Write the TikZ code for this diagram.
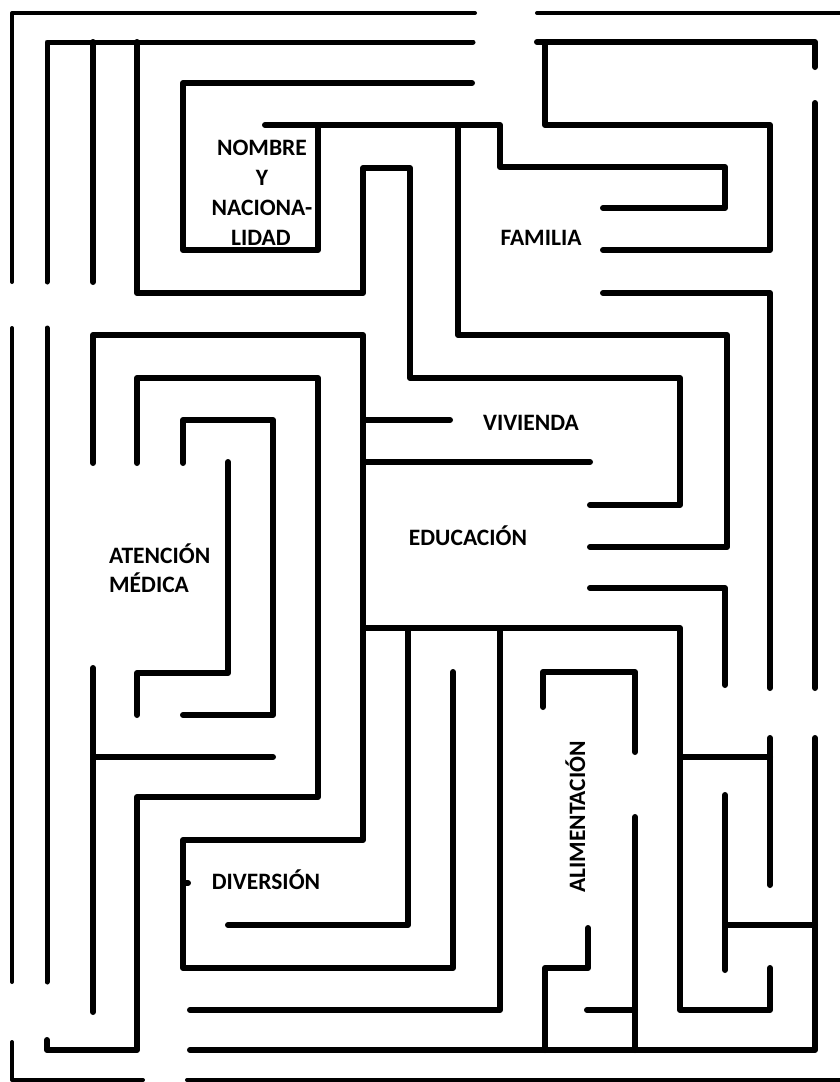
\documentclass[tikz,border=0pt]{standalone}
\usepackage{fontspec}
\setmainfont{Carlito}
\begin{document}
\begin{tikzpicture}[x=1pt,y=-1pt,
  wall/.style={line width=6pt,line cap=round,line join=round},
  ring/.style={line width=5pt,line cap=round,line join=round},
  frame/.style={line width=4pt,line cap=round,line join=round},
  lbl/.style={font=\fontsize{23.5}{28}\selectfont\bfseries,inner sep=0pt,anchor=base}]
\fill[white] (0,0) rectangle (840,1082);
\useasboundingbox (0,0) rectangle (840,1082);
% outer frame
\draw[frame] (12,282)--(12,13)--(475,13);
\draw[frame] (537,13)--(842,13);
\draw[frame] (12,328)--(12,982);
\draw[frame] (12,1042)--(12,1080)--(143,1080);
\draw[frame] (187,1080)--(842,1080);
% second ring
\draw[ring] (47,282)--(47,42)--(473,42);
\draw[ring] (47,328)--(47,982);
\draw[wall] (537,42)--(815,42)--(815,67);
\draw[wall] (815,103)--(815,688);
\draw[wall] (815,738)--(815,1050)--(190,1050);
% left columns
\draw[wall] (93,282)--(93,42);
\draw[wall] (93,463)--(93,335)--(363,335)--(363,840)--(183,840)--(183,968)--(453,968)--(453,672);
\draw[wall] (183,883)--(188,883);
\draw[wall] (137,42)--(137,293)--(363,293)--(363,168)--(410,168)--(410,378)--(680,378)--(680,505)--(590,505);
\draw[wall] (137,463)--(137,378)--(318,378)--(318,797)--(137,797)--(137,1050)--(47,1050)--(47,1040);
% NOMBRE box
\draw[wall] (472,83)--(183,83)--(183,250)--(318,250)--(318,125);
\draw[wall] (265,125)--(500,125)--(500,167)--(725,167)--(725,208)--(603,208);
\draw[wall] (458,125)--(458,335)--(727,335)--(727,547)--(590,547);
% top right
\draw[wall] (545,42)--(545,125)--(770,125)--(770,250)--(603,250);
\draw[wall] (603,293)--(770,293)--(770,688);
\draw[wall] (770,738)--(770,885);
% middle
\draw[wall] (363,420)--(450,420);
\draw[wall] (363,462)--(590,462);
\draw[wall] (590,588)--(725,588)--(725,685);
\draw[wall] (363,628)--(680,628)--(680,1010)--(770,1010)--(770,968);
\draw[wall] (408,628)--(408,925)--(228,925);
\draw[wall] (500,628)--(500,1010)--(190,1010);
\draw[wall] (543,707)--(543,672)--(635,672)--(635,752);
\draw[wall] (635,817)--(635,1050);
\draw[wall] (587,1010)--(635,1010);
\draw[wall] (545,1050)--(545,968)--(588,968)--(588,928);
\draw[wall] (680,757)--(770,757);
\draw[wall] (725,795)--(725,970);
\draw[wall] (725,925)--(815,925);
% atencion medica area
\draw[wall] (183,463)--(183,420)--(273,420)--(273,715)--(183,715);
\draw[wall] (228,462)--(228,673)--(137,673)--(137,715);
\draw[wall] (93,668)--(93,1012);
\draw[wall] (93,757)--(273,757);
% labels
\node[lbl] (nom1) at (262,155) {NOMBRE};
\node[lbl] (nom2) at (262,185) {Y};
\node[lbl] (nom3) at (262,215) {NACIONA-};
\node[lbl] (nom4) at (261,245) {LIDAD};
\node[lbl] (fam) at (541,245) {FAMILIA};
\node[lbl] (viv) at (531,430) {VIVIENDA};
\node[lbl] (edu) at (468,545) {EDUCACIÓN};
\node[lbl,anchor=base west] (ate1) at (109,563) {ATENCIÓN};
\node[lbl,anchor=base west] (ate2) at (109,592) {MÉDICA};
\node[lbl] (div) at (266,889) {DIVERSIÓN};
\node[lbl,rotate=90] (ali) at (585,817) {ALIMENTACIÓN};
\end{tikzpicture}
\end{document}
